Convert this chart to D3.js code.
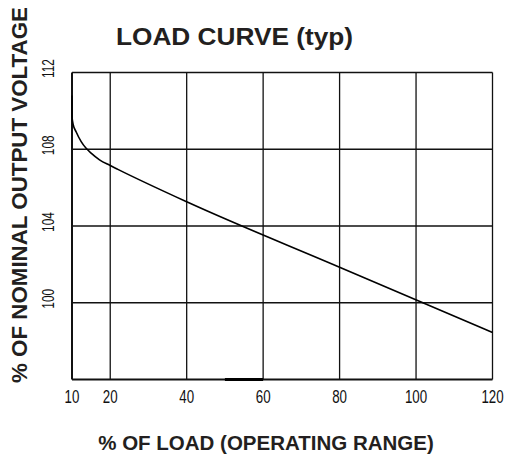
<!DOCTYPE html>
<html><head><meta charset="utf-8">
<script src="https://cdn.jsdelivr.net/npm/d3@7"></script>
<style>html,body{margin:0;padding:0;background:#fff;}svg{display:block;}</style>
</head><body>
<script>
// Data
const xTicks = [10, 20, 40, 60, 80, 100, 120];
const yTicks = [100, 104, 108, 112];
const curveLoad = [10, 10, 10.3, 11.1, 12.4, 13.7, 15, 17.2, 20, 22, 40, 80, 120];
const curveVoltage = [110.8, 109.7, 109.3, 108.9, 108.4, 108.05, 107.8, 107.45, 107.15, 106.95, 105.26, 101.85, 98.45];
const highlightRange = [50, 60];
const titleText = "LOAD CURVE (typ)";
const xTitle = "% OF LOAD (OPERATING RANGE)";
const yTitle = "% OF NOMINAL OUTPUT VOLTAGE";

const W = 509, H = 464;
const svg = d3.select("body").append("svg").attr("width", W).attr("height", H);
const x = d3.scaleLinear().domain([10, 120]).range([72, 492.5]);
const y = d3.scaleLinear().domain([96, 112]).range([379.5, 72.5]);

const g = svg.append("g");
// grid
g.selectAll(".vg").data(xTicks).enter().append("line")
  .attr("x1", d => x(d)).attr("x2", d => x(d)).attr("y1", y(96)).attr("y2", y(112))
  .attr("stroke", "#111").attr("stroke-width", d => d === 10 ? 2 : 1.3);
g.selectAll(".hg").data([96].concat(yTicks)).enter().append("line")
  .attr("x1", x(10)).attr("x2", x(120)).attr("y1", d => y(d)).attr("y2", d => y(d))
  .attr("stroke", "#111").attr("stroke-width", d => d === 96 ? 2 : 1.3);
// thick segment on bottom axis
g.append("line").attr("x1", x(highlightRange[0])).attr("x2", x(highlightRange[1]))
  .attr("y1", y(96)).attr("y2", y(96)).attr("stroke", "#000").attr("stroke-width", 3);

// curve
const pts = curveLoad.map((d, i) => [d, curveVoltage[i]]);
g.append("path").datum(pts)
  .attr("d", d3.line().x(d => x(d[0])).y(d => y(d[1])).curve(d3.curveMonotoneX))
  .attr("fill", "none").attr("stroke", "#000").attr("stroke-width", 1.6);

// x tick labels (narrow, condensed look)
const tickFont = "'Liberation Sans', Arial, sans-serif";
g.selectAll(".xt").data(xTicks).enter().append("text")
  .attr("transform", d => `translate(${x(d)},403) scale(0.72,1)`)
  .attr("text-anchor", "middle").attr("font-family", tickFont).attr("font-size", 18.5)
  .attr("fill", "#111").text(d => d);
// y tick labels
g.selectAll(".yt").data(yTicks).enter().append("text")
  .attr("transform", d => `translate(53.5,${y(d) - 4}) rotate(-90) scale(0.72,1)`)
  .attr("text-anchor", "middle").attr("font-family", tickFont).attr("font-size", 16.5)
  .attr("fill", "#111").text(d => d);

// titles
const boldFont = "'Liberation Sans', Arial, sans-serif";
svg.append("text").attr("x", 116).attr("y", 44.5)
  .attr("font-family", boldFont).attr("font-weight", "bold").attr("font-size", 23)
  .attr("textLength", 237).attr("lengthAdjust", "spacingAndGlyphs")
  .attr("fill", "#231f20").text(titleText);
svg.append("text").attr("x", 266).attr("y", 450)
  .attr("text-anchor", "middle")
  .attr("font-family", boldFont).attr("font-weight", "bold").attr("font-size", 20.5)
  .attr("fill", "#231f20").text(xTitle);
svg.append("text").attr("transform", "translate(27,195) rotate(-90)")
  .attr("text-anchor", "middle")
  .attr("font-family", boldFont).attr("font-weight", "bold").attr("font-size", 21.8)
  .attr("textLength", 376).attr("lengthAdjust", "spacingAndGlyphs")
  .attr("fill", "#231f20").text(yTitle);
</script>
</body></html>
